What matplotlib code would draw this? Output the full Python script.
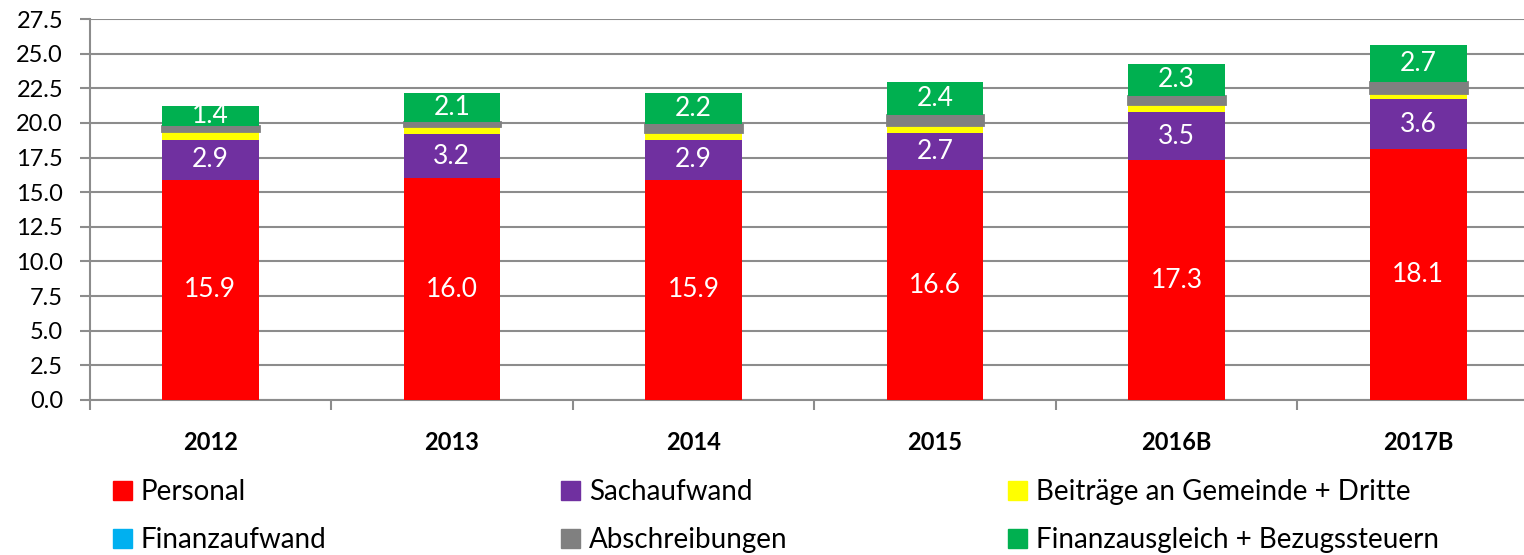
import numpy as np
import matplotlib
matplotlib.use('Agg')
import matplotlib.pyplot as plt
from matplotlib.patches import Patch

plt.rcParams['font.family'] = ['Lato', 'DejaVu Sans']

years = ['2012', '2013', '2014', '2015', '2016B', '2017B']
personal = [15.9, 16.0, 15.9, 16.6, 17.3, 18.1]
sachaufwand = [2.9, 3.2, 2.9, 2.7, 3.5, 3.6]
beitraege = [0.6, 0.5, 0.5, 0.5, 0.5, 0.4]
finanzaufwand = [0.05, 0.05, 0.05, 0.05, 0.05, 0.05]
abschreibungen = [0.35, 0.3, 0.6, 0.7, 0.6, 0.8]
finanzausgleich = [1.4, 2.1, 2.2, 2.4, 2.3, 2.7]

series = [
    ('Personal', personal, '#ff0000', True),
    ('Sachaufwand', sachaufwand, '#7030a0', True),
    ('Beiträge an Gemeinde + Dritte', beitraege, '#ffff00', False),
    ('Finanzaufwand', finanzaufwand, '#00b0f0', False),
    ('Abschreibungen', abschreibungen, '#808080', False),
    ('Finanzausgleich + Bezugssteuern', finanzausgleich, '#00b050', True),
]

fig = plt.figure(figsize=(15.24, 5.55), dpi=100)
# axes runs past the right edge, like the original (last category is clipped)
ax = fig.add_axes([89.5/1524, 1 - 400/555, (1539-89.5)/1524, (400-19)/555])

x = np.arange(len(years))
bottom = np.zeros(len(years))
for name, vals, col, lab in series:
    vals = np.array(vals)
    if name == 'Abschreibungen':
        ax.bar(x, vals, 0.4, bottom=bottom, color=col, edgecolor=col, linewidth=2, zorder=3)
    else:
        ax.bar(x, vals, 0.4, bottom=bottom, color=col, zorder=3)
    if lab:
        for xi, b, v in zip(x, bottom, vals):
            ax.text(xi, b + v/2, f'{v:.1f}', ha='center', va='center',
                    color='white', fontsize=19, zorder=4)
    bottom += vals

ax.set_ylim(0, 27.5)
ticks = np.arange(0, 27.6, 2.5)
ax.set_yticks(ticks)
ax.set_yticklabels([f'{v:.1f}' for v in ticks], fontsize=17)
ax.set_xlim(-0.5, len(years) - 0.5)
ax.set_xticks(x)
ax.set_xticklabels(years, fontsize=17, fontweight='bold')
ax.set_xticks(np.arange(-0.5, len(years)), minor=True)
ax.tick_params(axis='x', which='major', length=0, pad=22)
ax.tick_params(axis='x', which='minor', length=7, color='#8c8c8c', width=1.5)
ax.tick_params(axis='y', length=7, color='#8c8c8c', width=1.5, pad=12)
ax.grid(axis='y', color='#8c8c8c', linewidth=1.5, zorder=0)
for s in ['top', 'right']:
    ax.spines[s].set_visible(False)
for s in ['left', 'bottom']:
    ax.spines[s].set_color('#8c8c8c')
    ax.spines[s].set_linewidth(1.5)

# legend: three columns placed by hand
col_x = [113, 561, 1008]
for c in range(3):
    idx = [c, c + 3]
    fig.legend([Patch(color=series[i][2]) for i in idx],
               [series[i][0] for i in idx],
               loc='upper left', bbox_to_anchor=(col_x[c]/1524, 1 - 479/555),
               frameon=False, fontsize=20, handlelength=0.7, handleheight=0.7,
               handletextpad=0.3, labelspacing=0.8, borderaxespad=0, borderpad=0)

fig.savefig('out.png', dpi=100)
